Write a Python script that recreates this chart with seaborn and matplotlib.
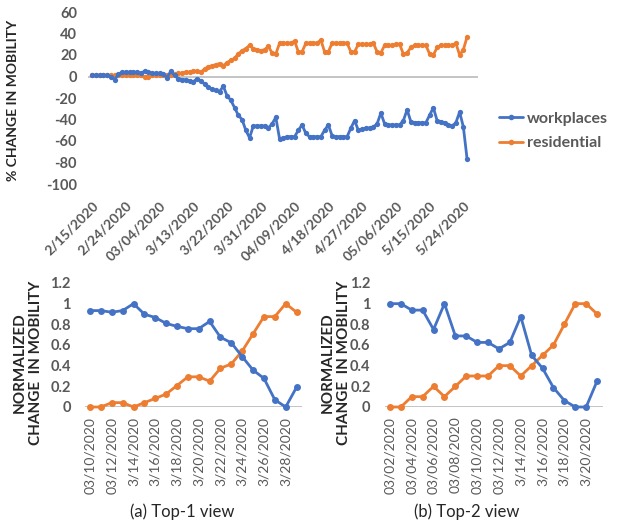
import pandas as pd
import matplotlib
matplotlib.use('Agg')
import matplotlib.pyplot as plt
from matplotlib.lines import Line2D
import seaborn as sns

BLUE = '#4472C4'
ORANGE = '#ED7D31'
GREY = '#595959'

# top panel: daily % change in mobility, 2/15/2020 .. 5/25/2020
workplaces = [1, 1, 1, 1, 1, 0, -3,
              2, 4, 4, 4, 4, 4, 3,
              5, 4, 3, 3, 3, 2, -1,
              5, 1, -2, -3, -3, -4, -5,
              -2, -4, -7, -10, -12, -13, -14,
              -9, -18, -22, -29, -36, -40, -50,
              -57, -46, -46, -46, -46, -48, -44,
              -38, -58, -57, -56, -56, -56, -50,
              -45, -53, -56, -56, -56, -56, -50,
              -45, -55, -56, -56, -56, -56, -48,
              -41, -50, -49, -48, -48, -47, -44,
              -34, -44, -45, -45, -45, -45, -41,
              -31, -42, -43, -43, -43, -43, -36,
              -29, -41, -42, -43, -45, -46, -43,
              -33, -47, -77]
residential = [1, 1, 1, 1, 1, 1, 1,
               1, 1, 1, 1, 1, 1, 1,
               0, 0, 1, 1, 1, 1, 1,
               1, 2, 3, 3, 4, 4, 5,
               5, 4, 7, 9, 10, 11, 12,
               10, 13, 15, 17, 21, 24, 26,
               29, 26, 25, 24, 25, 28, 22,
               21, 31, 31, 31, 31, 33, 23,
               23, 31, 31, 31, 31, 34, 23,
               23, 31, 31, 31, 31, 31, 23,
               23, 30, 30, 30, 30, 31, 23,
               22, 29, 29, 29, 30, 30, 21,
               22, 27, 29, 29, 29, 29, 21,
               20, 27, 29, 29, 29, 29, 31,
               20, 25, 37]
top_labels = ['2/15/2020', '2/24/2020', '03/04/2020', '3/13/2020', '3/22/2020',
              '3/31/2020', '04/09/2020', '4/18/2020', '4/27/2020', '05/06/2020',
              '5/15/2020', '5/24/2020']

# (a) Top-1 view, 03/10 .. 3/29
a_labels = ['03/10/2020', '03/12/2020', '3/14/2020', '3/16/2020', '3/18/2020',
            '3/20/2020', '3/22/2020', '3/24/2020', '3/26/2020', '3/28/2020']
a_work = [0.933, 0.933, 0.917, 0.933, 1.0, 0.898, 0.866, 0.809, 0.78, 0.758,
          0.758, 0.828, 0.675, 0.621, 0.487, 0.357, 0.277, 0.07, 0.0, 0.191]
a_res = [0.0, 0.0, 0.042, 0.042, 0.0, 0.042, 0.083, 0.125, 0.208, 0.292,
         0.292, 0.25, 0.375, 0.417, 0.542, 0.708, 0.875, 0.875, 1.0, 0.917]

# (b) Top-2 view, 03/02 .. 3/21
b_labels = ['03/02/2020', '03/04/2020', '03/06/2020', '03/08/2020', '03/10/2020',
            '03/12/2020', '3/14/2020', '3/16/2020', '3/18/2020', '3/20/2020']
b_work = [1.0, 1.0, 0.9375, 0.9375, 0.75, 1.0, 0.6875, 0.6875, 0.625, 0.625,
          0.5625, 0.625, 0.875, 0.5, 0.375, 0.1875, 0.0625, 0.0, 0.0, 0.25]
b_res = [0.0, 0.0, 0.1, 0.1, 0.2, 0.1, 0.2, 0.3, 0.3, 0.3,
         0.4, 0.4, 0.3, 0.4, 0.5, 0.6, 0.8, 1.0, 1.0, 0.9]

sns.set_style('white')
plt.rcParams['font.family'] = ['Lato', 'DejaVu Sans']

W, H = 623, 525
fig = plt.figure(figsize=(W / 100, H / 100), dpi=100)


def box(x0, y0, x1, y1):
    return [x0 / W, 1 - y1 / H, (x1 - x0) / W, (y1 - y0) / H]


def long_frame(work, res):
    n = len(work)
    return pd.DataFrame({
        'x': list(range(n)) * 2,
        'value': list(work) + list(res),
        'series': ['workplaces'] * n + ['residential'] * n,
    })


def draw(ax, df, lw, ms):
    sns.lineplot(data=df, x='x', y='value', hue='series',
                 palette={'workplaces': BLUE, 'residential': ORANGE},
                 hue_order=['residential', 'workplaces'],
                 marker='o', markersize=ms, markeredgewidth=0,
                 linewidth=lw, legend=False, ax=ax)
    for ln in ax.lines:
        ln.set_clip_on(False)
    ax.axhline(0, color='#BFBFBF', lw=1.3, zorder=0)
    sns.despine(ax=ax, left=True, bottom=True)
    ax.set_xlabel('')
    ax.set_ylabel('')
    ax.tick_params(length=0)


# ---- top panel
ax = fig.add_axes(box(88, 12, 478, 184))
draw(ax, long_frame(workplaces, residential), 2.0, 3.8)
ax.set_xlim(-1.07, 102.9)
ax.set_ylim(-100, 60)
ax.set_yticks(range(-100, 61, 20))
ax.set_yticklabels([str(v) for v in range(-100, 61, 20)],
                   fontsize=10.5, fontweight='bold', color=GREY)
ax.tick_params(axis='y', pad=8)
ax.set_xticks(range(0, 100, 9))
ax.set_xticklabels(top_labels, rotation=45, ha='right', rotation_mode='anchor',
                   fontsize=10, fontweight='bold', color=GREY)
ax.tick_params(axis='x', pad=11)
fig.text(13 / W, 1 - 100 / H, '% CHANGE IN MOBILITY', rotation=90,
         ha='center', va='center', fontsize=10, fontweight='bold')

handles = [Line2D([], [], color=BLUE, lw=2.0, marker='o', markersize=4, markeredgewidth=0),
           Line2D([], [], color=ORANGE, lw=2.0, marker='o', markersize=4, markeredgewidth=0)]
fig.legend(handles, ['workplaces', 'residential'], loc='center left',
           bbox_to_anchor=(485 / W, 1 - 131 / H), frameon=False,
           prop={'size': 11.5, 'weight': 'bold'}, labelcolor=GREY,
           handlelength=1.5, handletextpad=0.2, labelspacing=0.65)

# ---- bottom panels
norm_ticks = [0, 0.2, 0.4, 0.6, 0.8, 1.0, 1.2]
norm_labels = ['0', '0.2', '0.4', '0.6', '0.8', '1', '1.2']
panels = [(box(84.6, 283, 302, 407), a_work, a_res, a_labels, 28, 182, '(a) Top-1 view'),
          (box(384.5, 283, 602.5, 407), b_work, b_res, b_labels, 336, 467, '(b) Top-2 view')]
for rect, work, res, labels, ylab_x, cap_x, caption in panels:
    ax = fig.add_axes(rect)
    draw(ax, long_frame(work, res), 2.0, 5.0)
    ax.set_xlim(-0.5, 19.5)
    ax.set_ylim(0, 1.2)
    ax.set_yticks(norm_ticks)
    ax.set_yticklabels(norm_labels, fontsize=10.5, fontweight='bold', color=GREY)
    ax.tick_params(axis='y', pad=10)
    ax.set_xticks(range(0, 20, 2))
    ax.set_xticklabels(labels, rotation=90, fontsize=10, color=GREY)
    ax.tick_params(axis='x', pad=7)
    fig.text(ylab_x / W, 1 - 363 / H, 'NORMALIZED\nCHANGE  IN MOBILITY', rotation=90,
             ha='center', va='center', multialignment='center',
             fontsize=11, fontweight='bold', linespacing=1.15)
    fig.text(cap_x / W, 1 - 512 / H, caption, ha='center', va='center', fontsize=12)

fig.savefig('out.png', dpi=100)
